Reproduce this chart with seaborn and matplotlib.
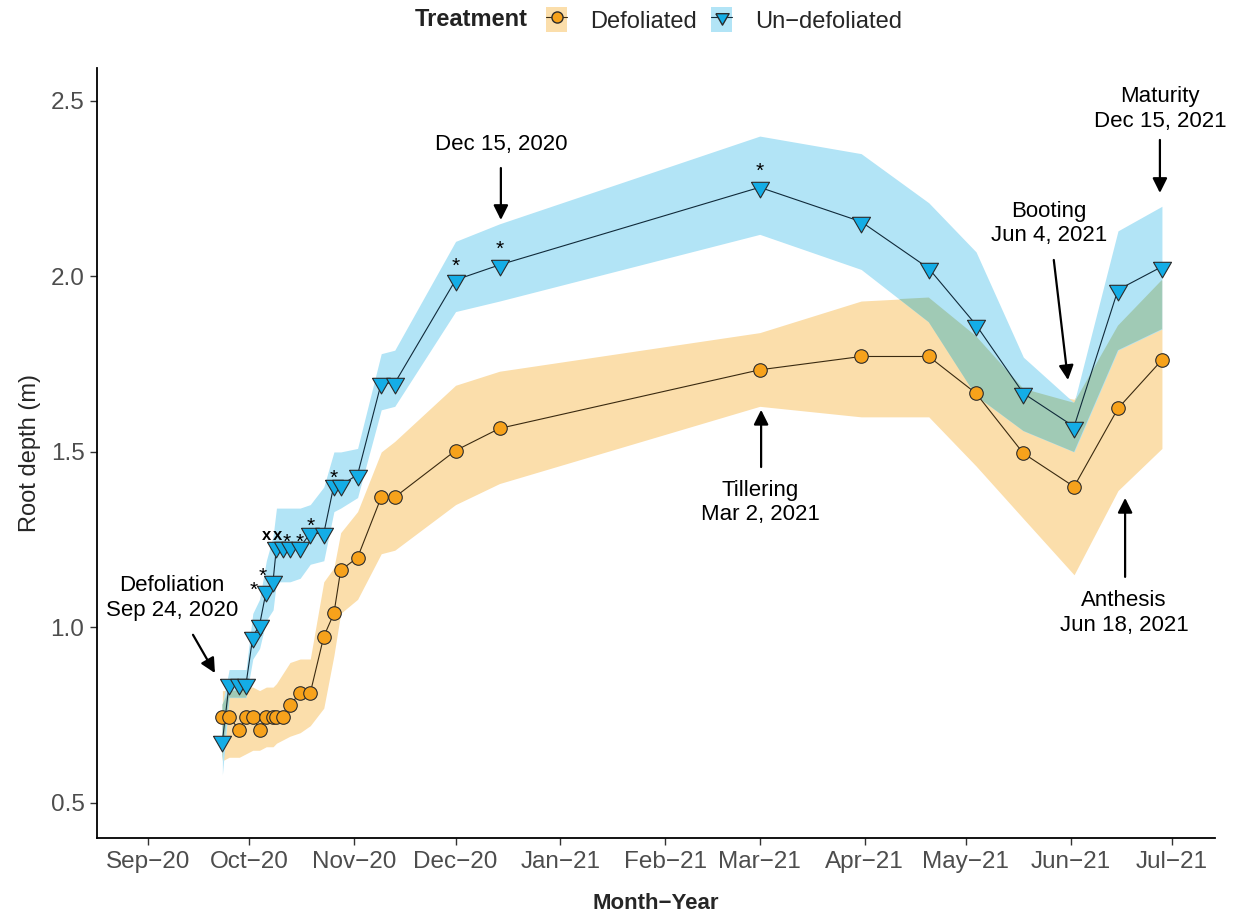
import numpy as np
import pandas as pd
import matplotlib
matplotlib.use("Agg")
import matplotlib.pyplot as plt
import matplotlib.dates as mdates
import seaborn as sns
from matplotlib.patches import Patch
from matplotlib.lines import Line2D
from matplotlib.legend_handler import HandlerTuple

# ---------------- data ----------------
dates = ["2020-09-23", "2020-09-25", "2020-09-28", "2020-09-30", "2020-10-02",
         "2020-10-04", "2020-10-06", "2020-10-08", "2020-10-09", "2020-10-11",
         "2020-10-13", "2020-10-16", "2020-10-19", "2020-10-23", "2020-10-26",
         "2020-10-28", "2020-11-02", "2020-11-09", "2020-11-13", "2020-12-01",
         "2020-12-14", "2021-03-01", "2021-03-31", "2021-04-20", "2021-05-04",
         "2021-05-18", "2021-06-02", "2021-06-15", "2021-06-28"]

defol_depth = [0.745, 0.745, 0.708, 0.745, 0.745, 0.708, 0.745, 0.745, 0.745, 0.745,
               0.779, 0.813, 0.813, 0.974, 1.040, 1.163, 1.199, 1.371, 1.371, 1.504,
               1.567, 1.734, 1.772, 1.772, 1.667, 1.496, 1.401, 1.624, 1.762]
defol_upper = [0.82, 0.82, 0.82, 0.83, 0.83, 0.82, 0.83, 0.83, 0.84, 0.87,
               0.90, 0.91, 0.91, 1.13, 1.17, 1.27, 1.33, 1.50, 1.53, 1.69,
               1.73, 1.84, 1.93, 1.94, 1.83, 1.68, 1.65, 1.86, 1.99]
defol_lower = [0.62, 0.63, 0.63, 0.64, 0.65, 0.65, 0.66, 0.66, 0.67, 0.68,
               0.69, 0.70, 0.72, 0.77, 0.92, 1.04, 1.08, 1.21, 1.22, 1.35,
               1.41, 1.63, 1.60, 1.60, 1.46, 1.31, 1.15, 1.39, 1.51]

undef_depth = [0.675, 0.839, 0.839, 0.839, 0.973, 1.007, 1.105, 1.132, 1.229, 1.229,
               1.229, 1.229, 1.268, 1.268, 1.405, 1.405, 1.435, 1.696, 1.696, 1.990,
               2.033, 2.254, 2.156, 2.023, 1.862, 1.667, 1.572, 1.962, 2.028]
undef_upper = [0.78, 0.88, 0.88, 0.88, 1.04, 1.08, 1.19, 1.26, 1.34, 1.34,
               1.34, 1.34, 1.35, 1.40, 1.50, 1.50, 1.51, 1.78, 1.79, 2.10,
               2.15, 2.40, 2.35, 2.21, 2.07, 1.77, 1.64, 2.13, 2.20]
undef_lower = [0.58, 0.80, 0.80, 0.80, 0.91, 0.94, 1.02, 1.05, 1.13, 1.13,
               1.13, 1.14, 1.18, 1.19, 1.33, 1.34, 1.37, 1.62, 1.63, 1.90,
               1.93, 2.12, 2.02, 1.87, 1.66, 1.56, 1.50, 1.79, 1.85]

treatments = ["Defoliated", "Un\u2212defoliated"]

# significance labels on the un-defoliated series
sig_dates = ["2020-10-06", "2020-10-08", "2020-10-09", "2020-10-11", "2020-10-13",
             "2020-10-16", "2020-10-19", "2020-10-26", "2020-12-01", "2020-12-14",
             "2021-03-01"]
sig_labels = ["*", "*", "x", "x", "*", "*", "*", "*", "*", "*", "*"]

stage_text = ["Defoliation\nSep 24, 2020", "Dec 15, 2020", "Tillering\nMar 2, 2021",
              "Booting\nJun 4, 2021", "Anthesis\nJun 18, 2021", "Maturity\nDec 15, 2021"]

# ---------------- styling ----------------
sns.set_style("ticks")
plt.rcParams["font.family"] = ["Liberation Sans", "DejaVu Sans"]

ORANGE = "#F7A21B"
BLUE = "#14ADE6"
RIB_OR = "#FBDEAB"
RIB_BL = "#B2E4F6"
RIB_OV = "#A0CAB5"
EDGE = "#2b2b2b"

df = pd.DataFrame({
    "date": pd.to_datetime(dates * 2),
    "depth": defol_depth + undef_depth,
    "lower": defol_lower + undef_lower,
    "upper": defol_upper + undef_upper,
    "Treatment": [treatments[0]] * len(dates) + [treatments[1]] * len(dates),
})

fig = plt.figure(figsize=(12.42, 9.21), dpi=100)
ax = fig.add_axes([97 / 1242, 83 / 921, 1118 / 1242, 770 / 921])

# ribbons
d0 = df[df.Treatment == treatments[0]].reset_index(drop=True)
d1 = df[df.Treatment == treatments[1]].reset_index(drop=True)
ax.fill_between(d0.date, d0.lower, d0.upper, color=RIB_OR, lw=0, zorder=1)
ax.fill_between(d1.date, d1.lower, d1.upper, color=RIB_BL, lw=0, zorder=2)
ov_lo = np.maximum(d0.lower.values, d1.lower.values)
ov_hi = np.minimum(d0.upper.values, d1.upper.values)
ax.fill_between(d0.date, ov_lo, ov_hi, where=ov_hi > ov_lo, interpolate=True,
                color=RIB_OV, lw=0, zorder=2.5)

# lines
sns.lineplot(data=df, x="date", y="depth", hue="Treatment",
             palette={treatments[0]: "#3a2a10", treatments[1]: "#102a3a"},
             lw=0.8, legend=False, ax=ax, zorder=3, estimator=None, sort=True)

# points
tri = [(-1, 0.577), (1, 0.577), (0, -1.155), (-1, 0.577)]
sns.scatterplot(data=d0, x="date", y="depth", marker="o", s=95, color=ORANGE,
                edgecolor=EDGE, linewidth=0.8, legend=False, ax=ax, zorder=4)
sns.scatterplot(data=d1, x="date", y="depth", marker=tri, s=225, color=BLUE,
                edgecolor=EDGE, linewidth=0.8, legend=False, ax=ax, zorder=5)

# significance labels
px2pt = 72.0 / 100.0
sig_dx_px = [-13, -10, -10, -6, -3, 0, 0, 0, 0, 0, 0]
sig_dy_px = [7, 11, 12, 12, 11, 11, 14, 13, 20, 22, 22]
lookup = dict(zip(pd.to_datetime(dates), undef_depth))
for dt, lab, dx, dy in zip(pd.to_datetime(sig_dates), sig_labels, sig_dx_px, sig_dy_px):
    if lab == "*":
        base = dy - 12.0
        ax.annotate(lab, xy=(dt, lookup[dt]), xytext=(dx * px2pt, base * px2pt),
                    textcoords="offset points", ha="center", va="baseline",
                    fontsize=15, color="black", zorder=6)
    else:
        base = dy - 4.5
        ax.annotate(lab, xy=(dt, lookup[dt]), xytext=(dx * px2pt, base * px2pt),
                    textcoords="offset points", ha="center", va="baseline",
                    fontsize=12, fontweight="bold", color="black", zorder=6)

# stage annotations (day offsets from 1 Sep 2020)
def day(d):
    return pd.Timestamp("2020-09-01") + pd.Timedelta(days=d)

text_pos = [(7.1, 1.084), (104.4, 2.375), (181.1, 1.355), (266.6, 2.150), (288.8, 1.041), (299.4, 2.477)]
arrow_from = [(13.3, 0.979), (104.4, 2.309), (181.4, 1.457), (268.0, 2.047), (289.1, 1.144), (299.4, 2.389)]
arrow_to = [(19.8, 0.870), (104.4, 2.161), (181.4, 1.620), (272.2, 1.705), (289.1, 1.369), (299.4, 2.238)]
for txt, tp, af, at in zip(stage_text, text_pos, arrow_from, arrow_to):
    ax.text(day(tp[0]), tp[1], txt, ha="center", va="center", fontsize=16,
            linespacing=1.2, color="black", zorder=7)
    ax.annotate("", xy=(day(at[0]), at[1]), xytext=(day(af[0]), af[1]),
                arrowprops=dict(arrowstyle="-|>", color="black", lw=1.6,
                                mutation_scale=22, shrinkA=0, shrinkB=0), zorder=7)

# axes
ax.set_xlim(day(-15.1), day(315.7))
ax.set_ylim(0.40, 2.594)
ax.set_yticks([0.5, 1.0, 1.5, 2.0, 2.5])
ax.set_yticklabels(["0.5", "1.0", "1.5", "2.0", "2.5"])
ax.xaxis.set_major_locator(mdates.MonthLocator())
ax.xaxis.set_major_formatter(mdates.DateFormatter("%b\u2212%y"))
ax.tick_params(axis="both", labelsize=17.5, labelcolor="#4d4d4d", color="#333333",
               length=5, width=1, direction="out", pad=4)
for s in ["top", "right"]:
    ax.spines[s].set_visible(False)
for s in ["left", "bottom"]:
    ax.spines[s].set_color("black")
    ax.spines[s].set_linewidth(1.3)
ax.set_xlabel("Month\u2212Year", fontsize=16, fontweight="bold")
ax.xaxis.set_label_coords(0.5, (838 - 893) / 770)
ax.set_ylabel("Root depth (m)", fontsize=17)
ax.yaxis.set_label_coords((41 - 97) / 1118, 0.5)
ax.grid(False)

# legend
h0 = (Patch(facecolor=RIB_OR, edgecolor="none"),
      Line2D([], [], color="#3a2a10", lw=0.8, marker="o", markersize=8,
             markerfacecolor=ORANGE, markeredgecolor=EDGE))
h1 = (Patch(facecolor=RIB_BL, edgecolor="none"),
      Line2D([], [], color="#102a3a", lw=0.8, marker=tri, markersize=11,
             markerfacecolor=BLUE, markeredgecolor=EDGE))
leg = fig.legend([h0, h1], treatments,
                 handler_map={tuple: HandlerTuple(ndivide=1, pad=0)},
                 ncol=2, loc="center left", bbox_to_anchor=(546 / 1242, 1 - 20 / 921),
                 frameon=False, fontsize=17, handlelength=0.9, handleheight=1.25,
                 handletextpad=0.95, columnspacing=0.62, borderaxespad=0, borderpad=0,
                 numpoints=1)
fig.text(528 / 1242, 1 - 20 / 921, "Treatment", ha="right", va="center",
         fontsize=17, fontweight="bold", color="#222222")

fig.savefig("out.png", dpi=100)
